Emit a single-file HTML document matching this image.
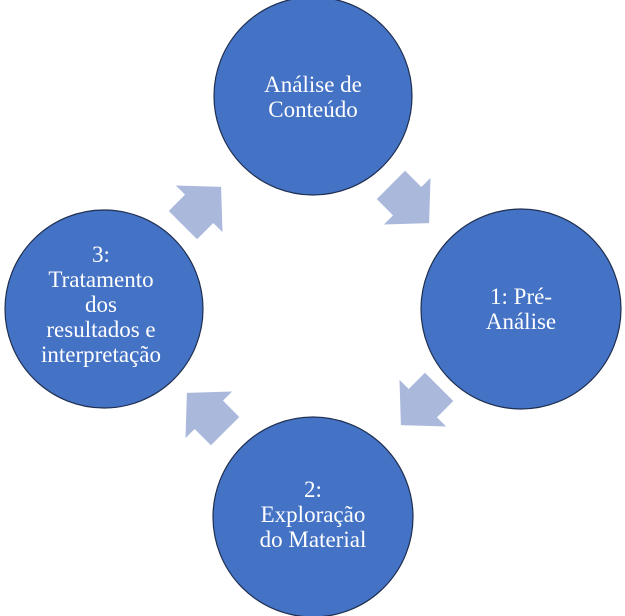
<!DOCTYPE html>
<html><head><meta charset="utf-8"><style>
body{margin:0;background:#fff;}
svg{display:block;}
text{font-family:"Liberation Serif",serif;font-size:23px;fill:#fff;text-anchor:middle;}
</style></head><body>
<svg width="625" height="616" viewBox="0 0 625 616">
<defs>
<polygon id="ar" points="-27,-20 -4,-20 -4,-33 27,0 -4,33 -4,20 -27,20" fill="#aab8dc"/>
</defs>
<g stroke="#1f2f4f" stroke-width="1.2" fill="#4472c4">
<circle cx="313" cy="96" r="99"/>
<circle cx="521" cy="309" r="100"/>
<circle cx="313" cy="517" r="100"/>
<circle cx="104" cy="309" r="99"/>
</g>
<use href="#ar" transform="translate(202,206) rotate(-45)"/>
<use href="#ar" transform="translate(410,204) rotate(45)"/>
<use href="#ar" transform="translate(420,406) rotate(135)"/>
<use href="#ar" transform="translate(206,412) rotate(-135)"/>
<text x="313" y="92">Análise de</text>
<text x="313" y="117">Conteúdo</text>
<text x="521" y="304">1: Pré-</text>
<text x="521" y="329">Análise</text>
<text x="313" y="497">2:</text>
<text x="313" y="522">Exploração</text>
<text x="313" y="547">do Material</text>
<text x="101" y="262">3:</text>
<text x="101" y="287">Tratamento</text>
<text x="101" y="312">dos</text>
<text x="101" y="337">resultados e</text>
<text x="101" y="362">interpretação</text>
</svg>
</body></html>
